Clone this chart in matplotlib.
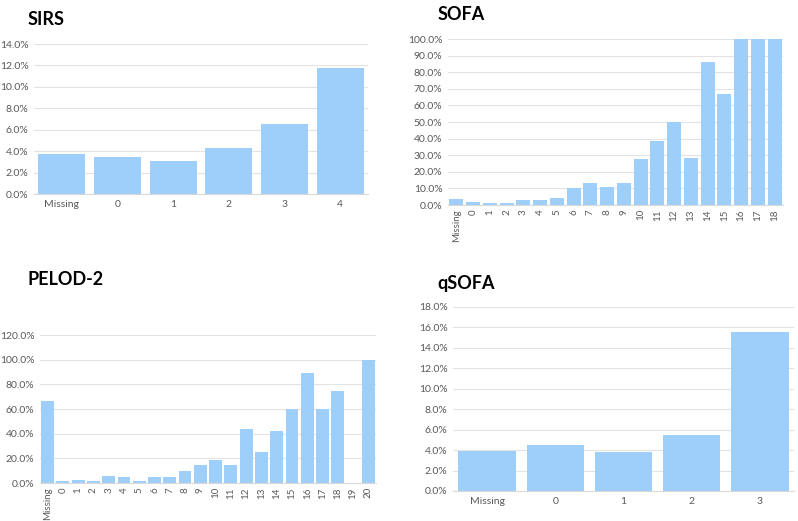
import matplotlib.pyplot as plt
from matplotlib.ticker import PercentFormatter, MultipleLocator

# data (percent)
sirs_cats = ['Missing', '0', '1', '2', '3', '4']
sirs_vals = [3.7, 3.5, 3.1, 4.3, 6.5, 11.8]

sofa_cats = ['Missing'] + [str(i) for i in range(19)]
sofa_vals = [3.5, 2.0, 1.3, 1.3, 3.3, 3.0, 4.0, 10.0, 13.5, 11.0, 13.5,
             27.5, 38.5, 50.0, 28.5, 86.0, 66.7, 100.0, 100.0, 100.0]

pelod_cats = ['Missing'] + [str(i) for i in range(21)]
pelod_vals = [66.7, 1.5, 2.5, 1.7, 6.0, 4.5, 2.0, 4.5, 4.5, 10.0, 15.0,
              18.5, 15.0, 44.0, 25.0, 42.0, 60.0, 89.0, 60.0, 75.0, 0.0, 100.0]

qsofa_cats = ['Missing', '0', '1', '2', '3']
qsofa_vals = [3.9, 4.5, 3.8, 5.5, 15.6]

BAR = '#9ecffb'
GRID = '#e3e3e3'
TXT = '#595959'

plt.rcParams['font.family'] = ['Lato', 'DejaVu Sans']

fig = plt.figure(figsize=(7.98, 5.21), dpi=100)


def panel(rect, cats, vals, ymax, step, rotate, title, title_xy):
    ax = fig.add_axes(rect)
    x = range(len(cats))
    ax.bar(x, vals, width=0.84, color=BAR, zorder=2)
    ax.set_xlim(-0.5, len(cats) - 0.5)
    ax.set_ylim(0, ymax)
    ax.yaxis.set_major_locator(MultipleLocator(step))
    ax.yaxis.set_major_formatter(PercentFormatter(decimals=1))
    ax.set_xticks(list(x))
    ax.set_xticklabels(cats, rotation=90 if rotate else 0)
    ax.grid(axis='y', color=GRID, linewidth=0.8, zorder=0)
    for s in ['top', 'right', 'left']:
        ax.spines[s].set_visible(False)
    ax.spines['bottom'].set_color('#d9d9d9')
    ax.tick_params(length=0, labelsize=7.5, colors=TXT, pad=4)
    if rotate:
        ax.tick_params(axis='x', labelsize=7, pad=3)
    fig.text(title_xy[0], title_xy[1], title, fontsize=13, fontweight='bold',
             color='black', va='top')
    return ax


panel([0.0426, 0.6276, 0.4185, 0.2879], sirs_cats, sirs_vals, 14, 2, False,
      'SIRS', (0.035, 0.978))
panel([0.5614, 0.6065, 0.4198, 0.3186], sofa_cats, sofa_vals, 100, 10, True,
      'SOFA', (0.548, 0.989))
panel([0.0501, 0.0729, 0.421, 0.2841], pelod_cats, pelod_vals, 120, 20, True,
      'PELOD-2', (0.035, 0.480))
panel([0.5677, 0.0576, 0.4273, 0.3532], qsofa_cats, qsofa_vals, 18, 2, False,
      'qSOFA', (0.548, 0.472))

plt.savefig('out.png', dpi=100)
